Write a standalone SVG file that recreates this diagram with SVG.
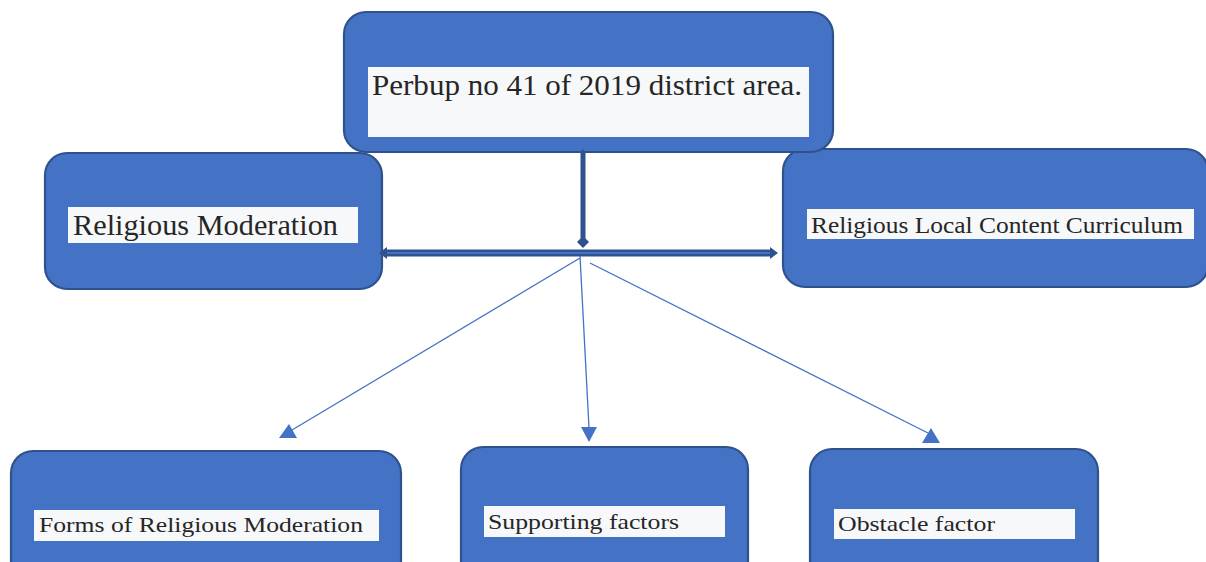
<svg xmlns="http://www.w3.org/2000/svg" width="1206" height="562" viewBox="0 0 1206 562">
<style>
.box{fill:#4472C4;stroke:#2F528F;stroke-width:2.2}
.lbl{fill:#F7F8FA}
.t{font-family:"Liberation Serif","Times New Roman",serif;fill:#262626}
.thin{stroke:#4472C4;stroke-width:1.3;fill:none}
.head{fill:#4472C4}
.dark{fill:#2F528F}
</style>
<rect width="1206" height="562" fill="#FFFFFF"/>
<g id="node-curriculum">
<rect class="box" x="783" y="149" width="425" height="138" rx="22"/>
<rect class="lbl" x="807" y="209" width="387" height="30"/>
<text class="t" x="811" y="233" font-size="23" textLength="372" lengthAdjust="spacingAndGlyphs">Religious Local Content Curriculum</text>
</g>
<g id="node-moderation">
<rect class="box" x="45" y="153" width="337" height="136" rx="22"/>
<rect class="lbl" x="68" y="207" width="290" height="36"/>
<text class="t" x="73" y="235" font-size="29" textLength="265" lengthAdjust="spacingAndGlyphs">Religious Moderation</text>
</g>
<g id="node-perbup">
<rect class="box" x="344" y="12" width="489" height="140" rx="22"/>
<rect class="lbl" x="368" y="67" width="441" height="70"/>
<text class="t" x="372" y="95" font-size="29" textLength="430" lengthAdjust="spacingAndGlyphs">Perbup no 41 of 2019 district area.</text>
</g>
<g id="node-forms">
<rect class="box" x="11" y="451" width="390" height="150" rx="22"/>
<rect class="lbl" x="34" y="510" width="345" height="31"/>
<text class="t" x="39" y="532" font-size="22" textLength="324" lengthAdjust="spacingAndGlyphs">Forms of Religious Moderation</text>
</g>
<g id="node-supporting">
<rect class="box" x="461" y="447" width="287" height="150" rx="22"/>
<rect class="lbl" x="484" y="506" width="241" height="31"/>
<text class="t" x="488" y="529" font-size="22" textLength="191" lengthAdjust="spacingAndGlyphs">Supporting factors</text>
</g>
<g id="node-obstacle">
<rect class="box" x="810" y="449" width="288" height="150" rx="22"/>
<rect class="lbl" x="834" y="509" width="241" height="30"/>
<text class="t" x="838" y="531" font-size="22" textLength="157" lengthAdjust="spacingAndGlyphs">Obstacle factor</text>
</g>
<g id="connectors">
<line x1="583" y1="153" x2="583" y2="240" stroke="#2F528F" stroke-width="5"/>
<polygon class="dark" points="583,149 586,153 580,153"/>
<polygon class="dark" points="583,236 589,242 583,248 577,242"/>
<line x1="385" y1="253" x2="771" y2="253" stroke="#2F528F" stroke-width="7"/>
<line x1="386" y1="253" x2="770" y2="253" stroke="#4472C4" stroke-width="2"/>
<polygon class="dark" points="379,253 387,247 387,259"/>
<polygon class="dark" points="778,253 770,247 770,259"/>
<line class="thin" x1="580" y1="258" x2="292" y2="430"/>
<polygon class="head" points="279,438 297,438 289,424"/>
<line class="thin" x1="580" y1="256" x2="589" y2="428"/>
<polygon class="head" points="581,427 597,427 589,442"/>
<line class="thin" x1="590" y1="263" x2="928" y2="433"/>
<polygon class="head" points="922,443 940,443 931,428"/>
</g>
</svg>
